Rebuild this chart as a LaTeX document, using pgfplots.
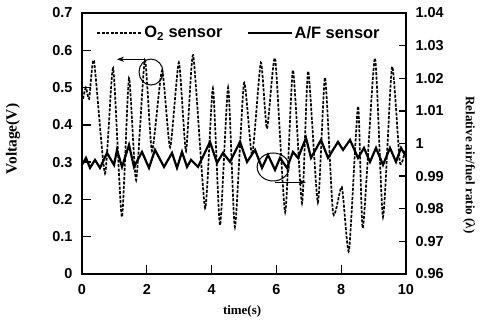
\documentclass[border=0pt]{standalone}
\usepackage{fontspec}
\setmainfont{Liberation Serif}
\newfontfamily\arial{Liberation Sans}
\usepackage{pgfplots}
\pgfplotsset{compat=1.18}
\usetikzlibrary{arrows.meta}
\begin{document}
\begin{tikzpicture}
\pgfplotsset{
  common/.style={
    scale only axis, width=324bp, height=261bp,
    xmin=0, xmax=10,
    tick align=inside,
    axis line style={line width=1.3bp},
    every tick/.style={line width=1.3bp, black},
    ticklabel style={font=\arial\bfseries\fontsize{14.5}{15}\selectfont},
    /pgf/number format/assume math mode=true,
    label style={font=\bfseries\fontsize{13}{14}\selectfont},
  }
}
\begin{axis}[common,
  ymin=0, ymax=0.7,
  xtick={0,2,4,6,8,10}, ytick={0,0.1,0.2,0.3,0.4,0.5,0.6,0.7},
  xtick pos=bottom, ytick pos=left,
  major tick length=9bp,
  yticklabel style={/pgf/number format/fixed, /pgf/number format/precision=1, xshift=-6bp},
  xticklabel style={yshift=-7bp},
  xlabel={time(s)}, ylabel={Voltage(V)},
  xlabel style={at={(axis description cs:0.494,0)}, anchor=center, yshift=-37bp},
  ylabel style={at={(axis description cs:-0.213,0.517)}, anchor=center, font=\bfseries\fontsize{15.5}{16}\selectfont},
  legend columns=2,
  legend style={at={(axis description cs:0.485,1)}, anchor=north, yshift=-9bp,
    draw=none, fill=none, font=\arial\bfseries\fontsize{16.5}{17}\selectfont,
    /tikz/every even column/.append style={column sep=22bp}},
  legend image code/.code={\draw[#1] (0bp,0bp) -- (44bp,0bp);},
]
\addplot[black, line width=1.7bp, dash pattern=on 3bp off 1.5bp, smooth, tension=0.35] coordinates {
(0.03,0.47) (0.12,0.50) (0.22,0.47) (0.37,0.572) (0.71,0.27) (0.96,0.552)
(1.23,0.153) (1.45,0.525) (1.67,0.252) (1.94,0.574) (2.16,0.33) (2.47,0.545)
(2.72,0.34) (2.99,0.567) (3.21,0.33) (3.43,0.587) (3.80,0.177) (4.04,0.498)
(4.26,0.131) (4.51,0.50) (4.72,0.126) (5.00,0.512) (5.25,0.32) (5.52,0.567)
(5.71,0.39) (5.96,0.578) (6.27,0.166) (6.51,0.547) (6.79,0.19) (6.98,0.544)
(7.28,0.192) (7.50,0.527) (7.75,0.163) (8.02,0.233) (8.24,0.062) (8.52,0.45)
(8.67,0.123) (9.04,0.579) (9.29,0.153) (9.57,0.556) (9.81,0.30) (9.97,0.33)
};
\addlegendentry{O\textsubscript{2} sensor}
\addlegendimage{black, line width=2.2bp}
\addlegendentry{A/F sensor}
\draw[line width=1bp] (axis cs:2.13,0.5416) ellipse [x radius=12bp, y radius=13bp];
\draw[line width=1.2bp, -{Stealth[length=7bp]}] (axis cs:1.94,0.576) -- (axis cs:1.08,0.576);
\draw[line width=1bp] (axis cs:5.90,0.287) ellipse [x radius=16bp, y radius=14bp];
\draw[line width=1.2bp, -{Stealth[length=7bp]}] (axis cs:5.96,0.246) -- (axis cs:6.91,0.246);
\end{axis}
\begin{axis}[common,
  ymin=0.96, ymax=1.04, clip=false,
  axis y line*=right, axis x line=none,
  ytick={0.96,0.97,0.98,0.99,1,1.01,1.02,1.03,1.04},
  major tick length=7bp,
  yticklabel style={/pgf/number format/fixed, /pgf/number format/precision=2, xshift=6bp},
]
\addplot[black, line width=2.2bp] coordinates {
(0,0.99344) (0.123,0.99558) (0.247,0.99252) (0.401,0.99497) (0.556,0.99252)
(0.772,0.99712) (0.988,0.99344) (1.080,0.99804) (1.235,0.99282) (1.451,0.99957)
(1.605,0.99282) (1.852,0.99742) (2.068,0.99252) (2.253,0.99804) (2.531,0.99282)
(2.778,0.99712) (2.932,0.99252) (3.086,0.99742) (3.241,0.99282) (3.364,0.99497)
(3.580,0.99282) (3.951,1.00049) (4.167,0.99405) (4.352,0.99712) (4.568,0.99436)
(4.877,1.00049) (5.093,0.99436) (5.340,0.99804) (5.556,0.99252) (5.741,0.99650)
(5.957,0.99190) (6.111,0.99558) (6.327,0.99252) (6.512,0.99742) (6.667,0.99558)
(6.914,1.00172) (7.068,0.99558) (7.377,1.00110) (7.593,0.99558) (7.901,1.00049)
(8.056,0.99804) (8.272,1.00110) (8.519,0.99558) (8.704,0.99865) (8.889,0.99436)
(9.074,0.99865) (9.290,0.99344) (9.506,0.99865) (9.691,0.99436) (9.846,0.99865)
(9.969,0.99650)
};
\node[font=\bfseries\fontsize{13}{14}\selectfont, rotate=-90] at ([xshift=63bp]axis description cs:1,0.418) {Relative air/fuel ratio (λ)};
\end{axis}
\pgfresetboundingbox
\useasboundingbox (-82bp,-58bp) rectangle (402bp,274bp);
\end{tikzpicture}
\end{document}
